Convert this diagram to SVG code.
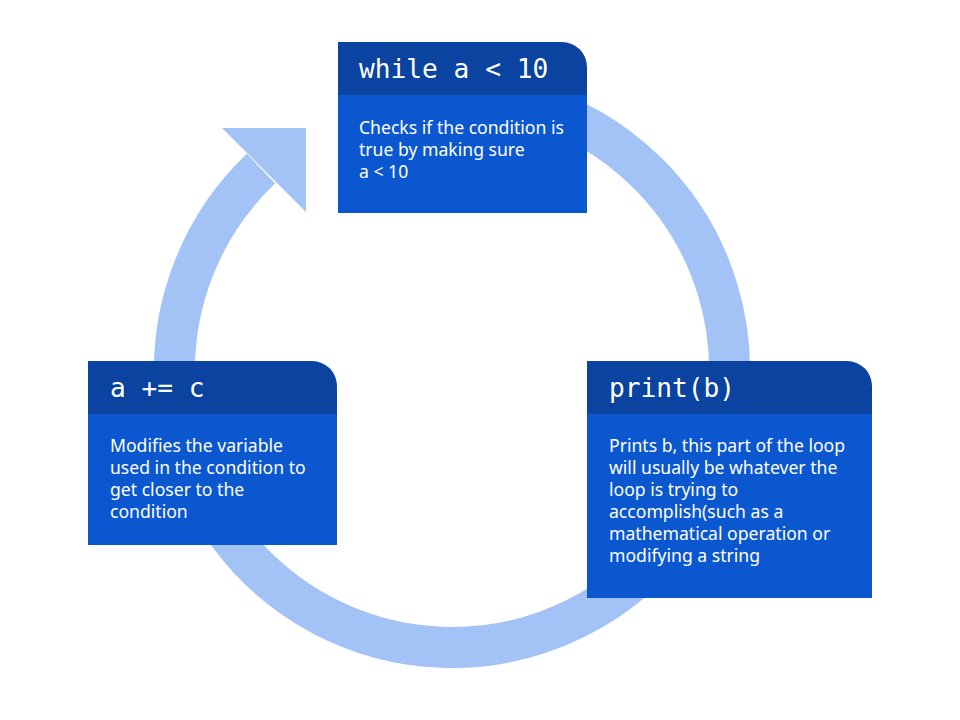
<svg xmlns="http://www.w3.org/2000/svg" width="960" height="720" viewBox="0 0 960 720">
<style>
.ring{fill:none;stroke:#a3c3f7;stroke-width:41}
.head{fill:#0a43a0}
.body{fill:#0b57d0}
.code{font-family:"DejaVu Sans Mono","Liberation Mono",monospace;font-size:26.2px;fill:#ffffff}
.txt{font-family:"Noto Sans","Liberation Sans",sans-serif;font-size:17.6px;fill:#ffffff}
</style>
<rect width="960" height="720" fill="#ffffff"/>
<g id="connectors">
<path class="ring" d="M 403.8 96.7 A 277.5 277.5 0 1 1 261.0 168.7"/>
<polygon points="222,128 306,128 306,212" fill="#a3c3f7"/>
</g>
<g id="node-while">
<rect class="body" x="338" y="95" width="249" height="118"/>
<path class="head" d="M338 42 H562 A25 25 0 0 1 587 67 V95 H338 Z"/>
<text class="code" x="359" y="78">while a &lt; 10</text>
<text class="txt" x="359" y="134">Checks if the condition is</text>
<text class="txt" x="359" y="156">true by making sure</text>
<text class="txt" x="359" y="178">a &lt; 10</text>
</g>
<g id="node-print">
<rect class="body" x="587" y="414" width="285" height="184"/>
<path class="head" d="M587 361 H847 A25 25 0 0 1 872 386 V414 H587 Z"/>
<text class="code" x="609" y="397">print(b)</text>
<text class="txt" x="609" y="452">Prints b, this part of the loop</text>
<text class="txt" x="609" y="474">will usually be whatever the</text>
<text class="txt" x="609" y="496">loop is trying to</text>
<text class="txt" x="609" y="518">accomplish(such as a</text>
<text class="txt" x="609" y="540">mathematical operation or</text>
<text class="txt" x="609" y="562">modifying a string</text>
</g>
<g id="node-increment">
<rect class="body" x="88" y="414" width="249" height="131"/>
<path class="head" d="M88 361 H312 A25 25 0 0 1 337 386 V414 H88 Z"/>
<text class="code" x="110" y="397">a += c</text>
<text class="txt" x="110" y="452">Modifies the variable</text>
<text class="txt" x="110" y="474">used in the condition to</text>
<text class="txt" x="110" y="496">get closer to the</text>
<text class="txt" x="110" y="518">condition</text>
</g>
</svg>
